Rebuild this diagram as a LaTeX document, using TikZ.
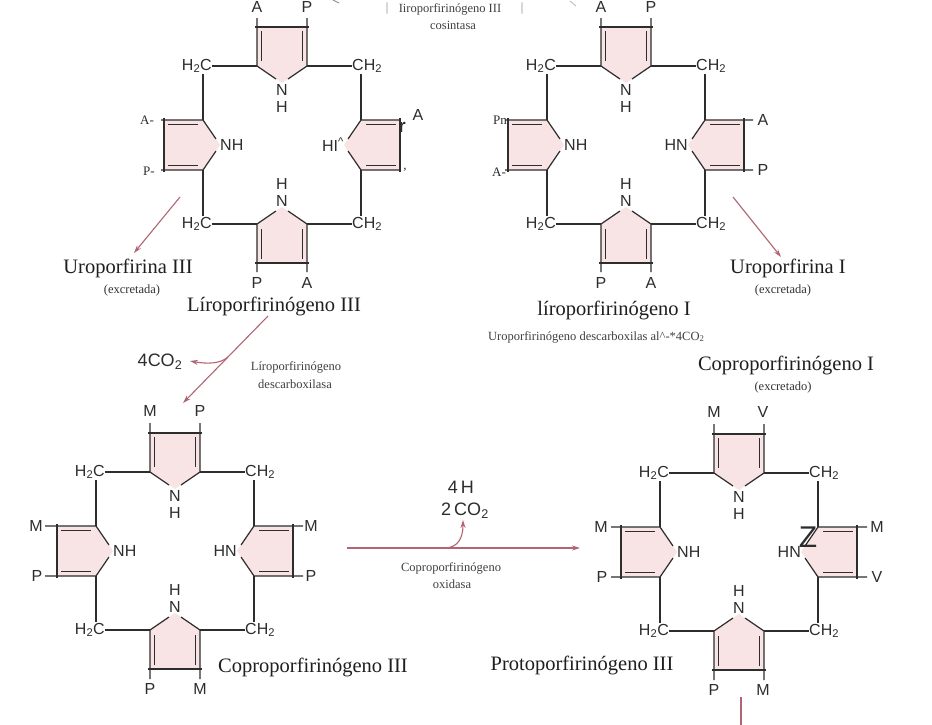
\documentclass[tikz,border=0pt]{standalone}
\usepackage{fontspec}
\setmainfont{Liberation Serif}
\setsansfont{Liberation Sans}
\usetikzlibrary{arrows.meta}
\definecolor{pinkfill}{RGB}{248,227,229}
\definecolor{bondc}{RGB}{45,45,45}
\definecolor{arrc}{RGB}{178,100,114}
\tikzset{
 bond/.style={draw=bondc,line width=1.2pt},
 dbond/.style={draw=bondc,line width=1pt},
 lab/.style={font=\sffamily\fontsize{16}{16}\selectfont,inner sep=0pt,text=bondc},
 serlab/.style={font=\fontsize{13}{13}\selectfont,inner sep=0pt,text=bondc},
 bigname/.style={font=\fontsize{20.5}{22}\selectfont,inner sep=0pt,text=black!88},
 smallname/.style={font=\fontsize{12.5}{14}\selectfont,inner sep=0pt,text=black!80},
 enztext/.style={font=\fontsize{12.5}{14}\selectfont,inner sep=0pt,text=black!75},
 rxn/.style={draw=arrc,line width=1.1pt,-{Stealth[length=8pt,width=5pt]}},
 rxnline/.style={draw=arrc,line width=1.1pt},
}
% pyrrole ring: centre x, centre y, rotation, tick length
\newcommand\pyr[4]{%
 \begin{scope}[shift={(#1,#2)},rotate=#3]
  \fill[pinkfill] (-25,-118) -- (25,-118) -- (25,-79) -- (0,-62) -- (-25,-79) -- cycle;
  \draw[bond] (-27,-118) -- (27,-118);
  \draw[bond] (-25,-#4) -- (-25,-79) -- (-6,-66);
  \draw[bond] (25,-#4) -- (25,-79) -- (6,-66);
  \draw[dbond] (-20.5,-114) -- (-20.5,-84);
  \draw[dbond] (20.5,-114) -- (20.5,-84);
 \end{scope}}
% bridges and N labels: centre x, centre y, name prefix, right N label
\newcommand\ring[4]{%
 \begin{scope}[shift={(#1,#2)}]
  \node[lab,anchor=east] (#3-c1) at (-70,-79) {H\textsubscript{2}C};
  \node[lab,anchor=west] (#3-c2) at (70,-79) {CH\textsubscript{2}};
  \node[lab,anchor=east] (#3-c3) at (-70,79) {H\textsubscript{2}C};
  \node[lab,anchor=west] (#3-c4) at (70,79) {CH\textsubscript{2}};
  \draw[bond] (-25,-79) -- (-70,-79) (25,-79) -- (70,-79) (-25,79) -- (-70,79) (25,79) -- (70,79);
  \draw[bond] (-79,-71) -- (-79,-25) (79,-71) -- (79,-25) (-79,71) -- (-79,25) (79,71) -- (79,25);
  \node[lab] (#3-n1) at (0,-55) {N};
  \node[lab] (#3-h1) at (0,-38) {H};
  \node[lab] (#3-n3) at (0,56) {N};
  \node[lab] (#3-h3) at (0,39) {H};
  \node[lab,anchor=west] (#3-n2) at (-62,0) {NH};
  \node[lab,anchor=east] (#3-n4) at (62,0) {#4};
 \end{scope}}
\begin{document}
\begin{tikzpicture}[x=1pt,y=-1pt]
\useasboundingbox (0,0) rectangle (932,724);
\fill[white] (0,0) rectangle (932,724);

% ---------- Uroporfirinogeno III (top left) ----------
\pyr{282}{145}{0}{127}
\pyr{282}{145}{90}{121}
\pyr{282}{145}{180}{127}
\pyr{282}{145}{270}{118}
\ring{282}{145}{u3}{HI\textsuperscript{\textasciicircum}}
\node[lab] (u3-t1) at (257,7) {A};
\node[lab] (u3-t2) at (307,7) {P};
\node[serlab] (u3-l1) at (147,120) {A-};
\node[serlab] (u3-l2) at (149,171) {P-};
\node[lab] (u3-b1) at (257,283) {P};
\node[lab] (u3-b2) at (307,283) {A};
\node[font=\sffamily\bfseries\fontsize{19}{19}\selectfont,inner sep=0pt,text=bondc] (u3-r1) at (402,127) {r};
\node[lab] (u3-r2) at (418,115) {A};
\node[serlab] (u3-r3) at (405,170) {,};
\node[bigname] (u3name) at (274,306) {Líroporfirinógeno III};
\node[bigname] (uro3) at (128,268) {Uroporfirina III};
\node[smallname] (uro3ex) at (132,290) {(excretada)};

% ---------- Uroporfirinogeno I (top right) ----------
\pyr{626}{145}{0}{127}
\pyr{626}{145}{90}{121}
\pyr{626}{145}{180}{127}
\pyr{626}{145}{270}{127}
\ring{626}{145}{u1}{HN}
\node[lab] (u1-t1) at (601,7) {A};
\node[lab] (u1-t2) at (651,7) {P};
\node[serlab] (u1-l1) at (500,120) {Pn};
\node[serlab] (u1-l2) at (499,172) {A-};
\node[lab] (u1-r1) at (763,120) {A};
\node[lab] (u1-r2) at (763,170) {P};
\node[lab] (u1-b1) at (601,283) {P};
\node[lab] (u1-b2) at (651,283) {A};
\node[bigname] (u1name) at (614,310) {líroporfirinógeno I};
\node[bigname] (uro1) at (788,268) {Uroporfirina I};
\node[smallname] (uro1ex) at (783,290) {(excretada)};

% ---------- Coproporfirinogeno III (bottom left) ----------
\pyr{175}{551}{0}{128}
\pyr{175}{551}{90}{130}
\pyr{175}{551}{180}{128}
\pyr{175}{551}{270}{128}
\ring{175}{551}{c3}{HN}
\node[lab] (c3-t1) at (150,411) {M};
\node[lab] (c3-t2) at (200,411) {P};
\node[lab] (c3-l1) at (36,526) {M};
\node[lab] (c3-l2) at (37,576) {P};
\node[lab] (c3-r1) at (311,526) {M};
\node[lab] (c3-r2) at (311,576) {P};
\node[lab] (c3-b1) at (150,689) {P};
\node[lab] (c3-b2) at (200,689) {M};
\node[bigname] (c3name) at (313,667) {Coproporfirinógeno III};

% ---------- Protoporfirinogeno III (bottom right) ----------
\pyr{739}{552}{0}{128}
\pyr{739}{552}{90}{128}
\pyr{739}{552}{180}{128}
\pyr{739}{552}{270}{128}
\ring{739}{552}{p3}{HN}
\node[lab] (p3-t1) at (714,412) {M};
\node[lab] (p3-t2) at (763,412) {V};
\node[lab] (p3-l1) at (601,527) {M};
\node[lab] (p3-l2) at (602,577) {P};
\node[lab] (p3-r1) at (877,527) {M};
\node[lab] (p3-r2) at (877,577) {V};
\node[lab] (p3-b1) at (714,690) {P};
\node[lab] (p3-b2) at (763,690) {M};
\node[font=\sffamily\fontsize{30}{30}\selectfont,inner sep=0pt,text=bondc] (p3z) at (808,537) {Z};
\node[bigname] (p3name) at (582,665) {Protoporfirinógeno III};
\node[bigname] (copro1) at (786,365) {Coproporfirinógeno I};
\node[smallname] (copro1ex) at (783,387) {(excretado)};

% ---------- enzyme texts ----------
\node[enztext] (cosin1) at (450,9) {Iiroporfirinógeno III};
\node[enztext] (cosin2) at (453,25) {cosintasa};
\node[enztext,text=black!50] (bar1) at (387,9) {|};
\node[enztext,text=black!50] (bar2) at (522,9) {|};
\node[enztext,anchor=west] (udesc) at (488,337) {Uroporfirinógeno descarboxilas al\textasciicircum-*4CO\textsubscript{2}};
\node[enztext] (ldesc1) at (296,367) {Líroporfirinógeno};
\node[enztext] (ldesc2) at (295,384) {descarboxilasa};
\node[font=\sffamily\fontsize{18}{18}\selectfont,inner sep=0pt,text=bondc] (co2a) at (160,362) {4CO\textsubscript{2}};
\node[font=\sffamily\fontsize{18}{18}\selectfont,inner sep=0pt,text=bondc] (h4) at (461,487) {4\,H};
\node[font=\sffamily\fontsize{18}{18}\selectfont,inner sep=0pt,text=bondc] (co2b) at (465,511) {2\,CO\textsubscript{2}};
\node[enztext] (cox1) at (451,568) {Coproporfirinógeno};
\node[enztext] (cox2) at (452,584) {oxidasa};

% ---------- reaction arrows ----------
\coordinate (a1s) at (180,197); \coordinate (a1e) at (134,253);
\draw[rxn] (a1s) -- (a1e);
\coordinate (a2s) at (733,197); \coordinate (a2e) at (781,257);
\draw[rxn] (a2s) -- (a2e);
\coordinate (a3s) at (268,316); \coordinate (a3e) at (183,403);
\draw[rxn] (a3s) -- (a3e);
\coordinate (a3b) at (228,357); \coordinate (a3c) at (190,361);
\draw[rxn] (a3b) .. controls (220,364) and (207,364) .. (a3c);
\coordinate (a4s) at (347,548); \coordinate (a4e) at (580,548);
\draw[rxn] (a4s) -- (a4e);
\coordinate (a4b) at (446,548); \coordinate (a4c) at (463,520);
\draw[rxn] (a4b) .. controls (458,547) and (463,538) .. (a4c);
\coordinate (a5s) at (741,697); \coordinate (a5e) at (741,726);
\draw[rxnline] (a5s) -- (a5e);
\coordinate (t1s) at (333,0); \coordinate (t1e) at (339,3);
\draw[line width=0.9pt,draw=black!45] (t1s) -- (t1e);
\coordinate (t2s) at (570,1); \coordinate (t2e) at (576,6);
\draw[line width=0.9pt,draw=black!25] (t2s) -- (t2e);
\end{tikzpicture}
\end{document}
